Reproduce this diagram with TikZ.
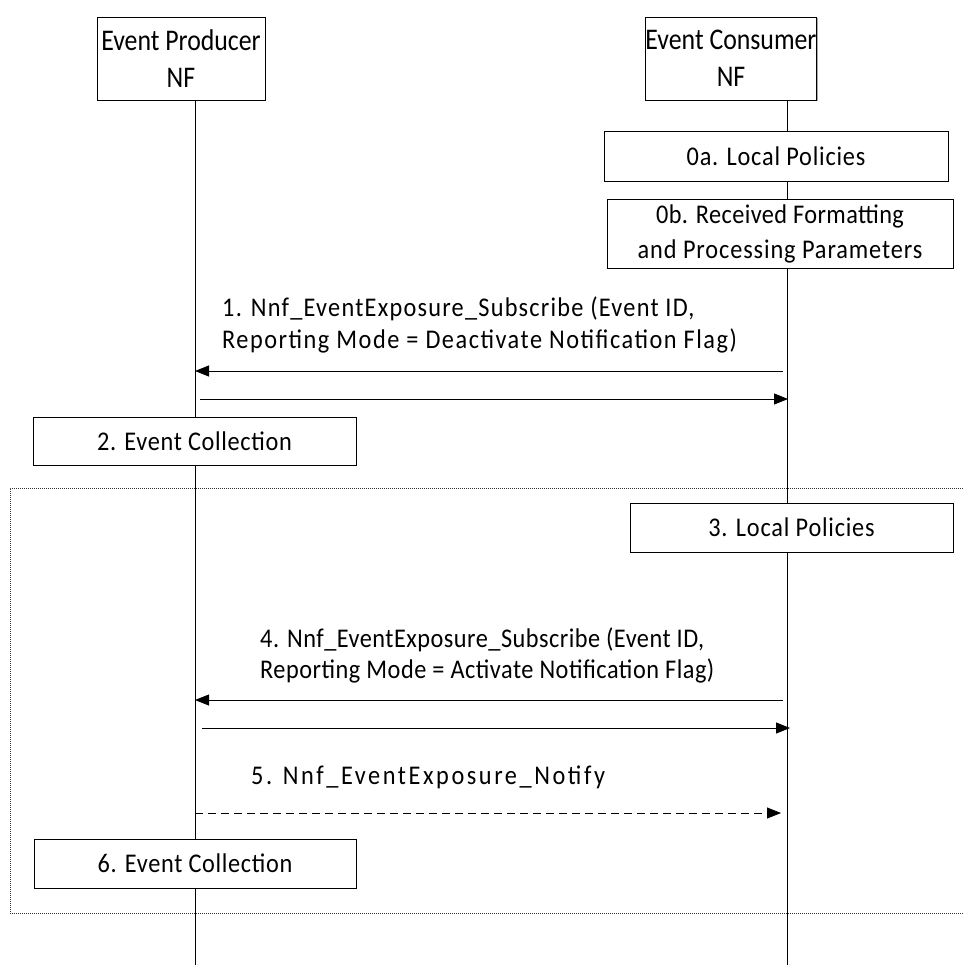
\documentclass[tikz,border=0pt]{standalone}
\usepackage{fontspec}
\setmainfont{Carlito}[FakeStretch=0.9]
\newfontfamily\titlefam{Carlito}[FakeStretch=0.86]
\newcommand\lsp[2]{{\addfontfeatures{LetterSpace=#1}#2}}
\usetikzlibrary{arrows.meta,shadows}
\begin{document}
\begin{tikzpicture}[x=1pt,y=-1pt,
  every node/.style={inner sep=0pt},
  box/.style={draw,line width=0.8pt,fill=white,
    drop shadow={shadow xshift=1.2pt,shadow yshift=-1.2pt,fill=black!35,opacity=1}},
  titlefont/.style={font=\titlefam\fontsize{30}{37}\selectfont},
  txt/.style={font=\fontsize{27}{34}\selectfont},
  lbl/.style={txt,anchor=base west},
  life/.style={line width=0.8pt},
  msg/.style={line width=0.8pt,-{Triangle[length=14pt,width=11pt]}},
  dmsg/.style={msg,dash pattern=on 8pt off 5pt}
]
\useasboundingbox (0,0) rectangle (962,965);
% group frame
\draw[line width=0.6pt,dash pattern=on 1pt off 1pt,black!80] (975,488) -- (10,488) -- (10,913) -- (975,913);
% lifelines
\coordinate (ptop) at (195,100);
\coordinate (pbot) at (195,965);
\coordinate (ctop) at (787,100);
\coordinate (cbot) at (787,965);
\draw[life] (ptop) -- (pbot);
\draw[life] (ctop) -- (cbot);
% actors
\node[box,titlefont,minimum width=168pt,minimum height=83pt,align=center] (prod) at (181,58.5) {Event Producer\\NF};
\node[box,titlefont,minimum width=160pt,minimum height=83pt,align=center] (cons) at (731,58.5) {Event Consumer\\NF};
% consumer boxes
\node[box,txt,minimum width=344pt,minimum height=50pt] (s0a) at (776,156) {\lsp{2.9}{0a. Local Policies}};
\node[box,txt,minimum width=346pt,minimum height=69pt,align=center] (s0b) at (780,233.5) {\lsp{1.5}{0b. Received Formatting}\\[1pt]\lsp{3.3}{and Processing Parameters}};
% message 1
\node[lbl] (l1a) at (222,316) {\lsp{4.6}{1. Nnf\_EventExposure\_Subscribe (Event ID,}};
\node[lbl] (l1b) at (222,348) {\lsp{5.6}{Reporting Mode = Deactivate Notification Flag)}};
\coordinate (c1) at (783,371);
\coordinate (p1) at (195,371);
\draw[msg] (c1) -- (p1);
\coordinate (p1r) at (200,399);
\coordinate (c1r) at (788,399);
\draw[msg] (p1r) -- (c1r);
% step 2
\node[box,txt,minimum width=323pt,minimum height=48pt] (s2) at (194.5,441) {\lsp{2.5}{2. Event Collection}};
% step 3
\node[box,txt,minimum width=323pt,minimum height=49pt] (s3) at (791.5,527.5) {\lsp{2.9}{3. Local Policies}};
% message 4
\node[lbl] (l4a) at (260,647) {\lsp{1.8}{4. Nnf\_EventExposure\_Subscribe (Event ID,}};
\node[lbl] (l4b) at (260,678) {\lsp{1.9}{Reporting Mode = Activate Notification Flag)}};
\coordinate (c4) at (783,700);
\coordinate (p4) at (195,700);
\draw[msg] (c4) -- (p4);
\coordinate (p4r) at (202,728);
\coordinate (c4r) at (790,728);
\draw[msg] (p4r) -- (c4r);
% message 5
\node[lbl] (l5) at (251,784) {\lsp{9.5}{5. Nnf\_EventExposure\_Notify}};
\coordinate (p5) at (195,813);
\coordinate (c5) at (781,813);
\draw[dmsg] (p5) -- (c5);
% step 6
\node[box,txt,minimum width=322pt,minimum height=49pt] (s6) at (195,863.5) {\lsp{2.5}{6. Event Collection}};
\end{tikzpicture}
\end{document}
